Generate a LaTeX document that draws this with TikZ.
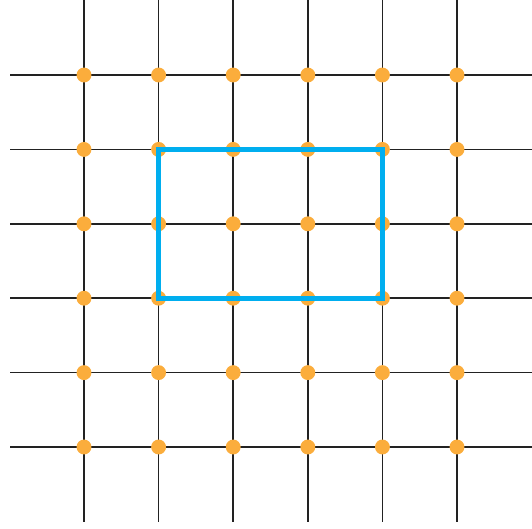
\documentclass[tikz,border=0pt]{standalone}
\usepackage{xcolor}
\definecolor{dotor}{HTML}{FBAD3C}
\definecolor{cyanbl}{HTML}{00AEEF}
\definecolor{gridln}{HTML}{222222}
\tikzset{
  gridline/.style={draw=gridln,line width=1.05pt},
  gdot/.style={circle,fill=dotor,inner sep=0pt,minimum size=10.6pt},
  box/.style={draw=cyanbl,line width=3.3pt}
}
\begin{document}
\begin{tikzpicture}[x=0.025cm,y=-0.025cm]
\useasboundingbox (0,0) rectangle (532,528);
\foreach \i in {0,...,5}{
  \draw[gridline] (84+74.6*\i,0) -- (84+74.6*\i,522);
  \draw[gridline] (10,75+74.4*\i) -- (532,75+74.4*\i);
}
\foreach \i in {0,...,5}{\foreach \j in {0,...,5}{
  \node[gdot] (d-\i-\j) at (84+74.6*\i,75+74.4*\j) {};
}}
\draw[box] (d-1-1.center) rectangle (d-4-3.center);
\end{tikzpicture}
\end{document}
